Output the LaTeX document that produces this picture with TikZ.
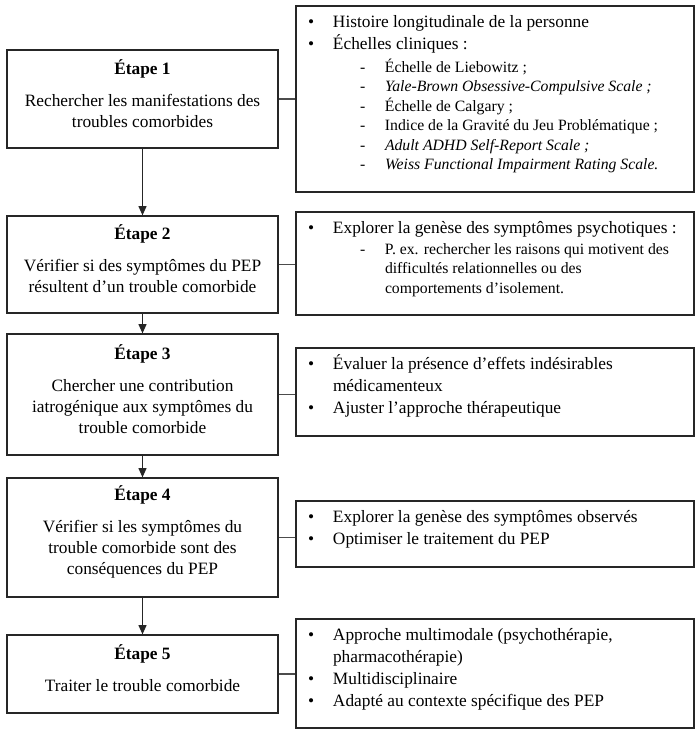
\documentclass[tikz,border=0pt]{standalone}
\usepackage{fontspec}
\setmainfont{Liberation Serif}
\usepackage{tikz}
\usetikzlibrary{arrows.meta}

\newcommand{\steptext}[3]{\parbox[c][#1][c]{203.25pt}{\centering\fontsize{13}{15.75}\selectfont
  \textbf{#2}\\[8pt]#3\par\vspace{8.5pt}}}
\newcommand{\listtext}[2]{\parbox[c][#1][t]{298.5pt}{\raggedright\rule{0pt}{16pt}#2}}
\newcommand{\bitem}[1]{{\fontsize{13}{16.5}\selectfont\hspace*{9pt}\makebox[18.75pt][l]{\textbullet}#1\par}}
\newcommand{\bcont}[1]{{\fontsize{13}{16.5}\selectfont\hspace*{27.75pt}#1\par}}
\newcommand{\ditem}[1]{{\fontsize{11.8}{14.6}\selectfont\hspace*{48pt}\makebox[18.75pt][l]{-}#1\par}}
\newcommand{\dcont}[1]{{\fontsize{11.8}{14.6}\selectfont\hspace*{66.75pt}#1\par}}

\tikzset{
  stepbox/.style={draw=black!85,line width=0.9pt,inner sep=0pt},
  listbox/.style={draw=black!85,line width=0.9pt,inner sep=0pt},
  arr/.style={-{Triangle[length=7pt,width=6pt]},draw=black!85,line width=0.9pt},
  link/.style={draw=black!70,line width=0.9pt},
}

\begin{document}
\begin{tikzpicture}[x=0.75pt,y=-0.75pt]
\useasboundingbox (0,0) rectangle (700,733);

% etapes
\node[stepbox] (e1) at (142.5,99) {\steptext{73.5pt}{Étape 1}{Rechercher les manifestations des\\ troubles comorbides}};
\node[stepbox] (e2) at (142.5,264.5) {\steptext{72.75pt}{Étape 2}{Vérifier si des symptômes du PEP\\ résultent d’un trouble comorbide}};
\node[stepbox] (e3) at (142.5,394.5) {\steptext{90.75pt}{Étape 3}{Chercher une contribution\\ iatrogénique aux symptômes du\\ trouble comorbide}};
\node[stepbox] (e4) at (142.5,537.5) {\steptext{89.25pt}{Étape 4}{Vérifier si les symptômes du\\ trouble comorbide sont des\\ conséquences du PEP}};
\node[stepbox] (e5) at (142.5,674) {\steptext{58.5pt}{Étape 5}{Traiter le trouble comorbide}};

% listes
\node[listbox] (l1) at (495,99) {\listtext{139.5pt}{%
  \bitem{Histoire longitudinale de la personne}
  \bitem{Échelles cliniques :}
  \vspace{2.6pt}
  \ditem{Échelle de Liebowitz ;}
  \ditem{\textit{Yale-Brown Obsessive-Compulsive Scale ;}}
  \ditem{Échelle de Calgary ;}
  \ditem{Indice de la Gravité du Jeu Problématique ;}
  \ditem{\textit{Adult ADHD Self-Report Scale ;}}
  \ditem{\textit{Weiss Functional Impairment Rating Scale.}}}};
\node[listbox] (l2) at (495,263.5) {\listtext{77.25pt}{%
  \bitem{Explorer la genèse des symptômes psychotiques :}
  \vspace{1.2pt}
  \ditem{P. ex. rechercher les raisons qui motivent des}
  \dcont{difficultés relationnelles ou des}
  \dcont{comportements d’isolement.}}};
\node[listbox] (l3) at (495,392) {\listtext{66pt}{%
  \bitem{Évaluer la présence d’effets indésirables}
  \bcont{médicamenteux}
  \bitem{Ajuster l’approche thérapeutique}}};
\node[listbox] (l4) at (495,534) {\listtext{49.5pt}{%
  \bitem{Explorer la genèse des symptômes observés}
  \bitem{Optimiser le traitement du PEP}}};
\node[listbox] (l5) at (495,673.5) {\listtext{81.75pt}{%
  \bitem{Approche multimodale (psychothérapie,}
  \bcont{pharmacothérapie)}
  \bitem{Multidisciplinaire}
  \bitem{Adapté au contexte spécifique des PEP}}};

% fleches entre etapes
\foreach \a/\b in {e1/e2,e2/e3,e3/e4,e4/e5}
  \draw[arr] (\a) -- (\b);

% liens vers les listes
\foreach \i in {1,...,5}
  \draw[link] (e\i.east) -- (e\i.east -| l\i.west);
\end{tikzpicture}
\end{document}
